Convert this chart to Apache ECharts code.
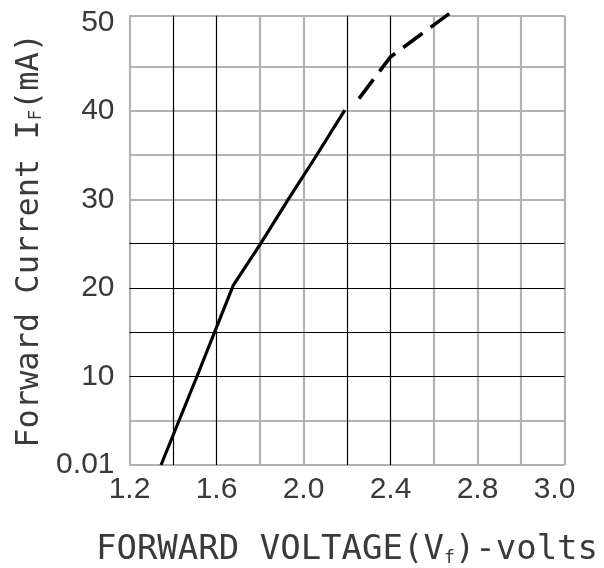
<!DOCTYPE html>
<html>
<head>
<meta charset="utf-8">
<script src="https://cdn.jsdelivr.net/npm/echarts@6/dist/echarts.min.js"></script>
<style>
  html, body { margin: 0; padding: 0; background: #fff; }
  #chart { width: 604px; height: 568px; }
</style>
</head>
<body>
<div id="chart"></div>
<script>
// Forward voltage (V) vs forward current (mA)
const solidVoltage = [1.345, 1.51, 1.677, 1.80, 1.93, 2.05, 2.19];
const solidCurrent = [0, 10, 20.3, 24.9, 30, 34.6, 40.1];
const dashedVoltage = [2.255, 2.40, 2.67];
const dashedCurrent = [41.4, 46.1, 51.0];

// Tick labels
const xTickValues = [1.2, 1.6, 2.0, 2.4, 2.8, 3.2];
const xTickLabels = ['1.2', '1.6', '2.0', '2.4', '2.8', '3.0'];
const yTickValues = [0, 10, 20, 30, 40, 50];
const yTickLabels = ['0.01', '10', '20', '30', '40', '50'];

// Grid lines: light frame lines and dark emphasis lines
const xMin = 1.2, xMax = 3.2, yMin = 0, yMax = 50.76;
const grayGridX = [1.2, 1.8, 2.0, 2.6, 2.8, 3.0, 3.2];
const darkGridX = [1.4, 1.6, 2.2, 2.4];
const grayGridY = [0, 5, 30, 35, 40, 45, 50.76];
const darkGridY = [10, 15, 20, 25];

const pair = (xs, ys) => xs.map((x, i) => [x, ys[i]]);
const gridLines = (xs, ys, style) => [
  ...xs.map(v => ({ xAxis: v, lineStyle: style })),
  ...ys.map(v => ({ yAxis: v, lineStyle: style }))
];

const grayStyle = { color: '#b2b2b2', width: 2.2, type: 'solid' };
const darkStyle = { color: '#000', width: 1.2, type: 'solid' };

const numFont = 'Liberation Sans, Arial, sans-serif';
const monoFont = 'DejaVu Sans Mono, monospace';
const textColor = '#3a3a3a';

const chart = echarts.init(document.getElementById('chart'), null, { renderer: 'canvas' });
chart.setOption({
  animation: false,
  backgroundColor: '#fff',
  grid: { left: 129.5, right: 39.5, top: 15.7, bottom: 103, containLabel: false, outerBoundsMode: 'none' },
  xAxis: {
    type: 'value', min: xMin, max: xMax, interval: 0.2,
    axisLine: { show: false }, axisTick: { show: false }, splitLine: { show: false },
    axisLabel: {
      margin: 10, fontFamily: numFont, fontSize: 30, color: textColor,
      showMinLabel: true, showMaxLabel: true,
      formatter: v => {
        const i = xTickValues.findIndex(t => Math.abs(t - v) < 1e-6);
        if (i < 0) return '';
        return i === xTickLabels.length - 1 ? '{last|' + xTickLabels[i] + '}' : xTickLabels[i];
      },
      rich: { last: { fontFamily: numFont, fontSize: 30, color: textColor, padding: [0, 20, 0, 0] } }
    },
    name: '{t|FORWARD VOLTAGE(V}{s|f}{t|)-volts}',
    nameLocation: 'middle', nameGap: 68,
    nameTextStyle: {
      rich: {
        t: { fontFamily: monoFont, fontSize: 34, color: textColor },
        s: { fontFamily: monoFont, fontSize: 18, color: textColor, verticalAlign: 'bottom', padding: [8, 0, 0, 0] }
      }
    }
  },
  yAxis: {
    type: 'value', min: yMin, max: yMax, interval: 10,
    axisLine: { show: false }, axisTick: { show: false }, splitLine: { show: false },
    axisLabel: {
      margin: 15, fontFamily: numFont, fontSize: 30, color: textColor,
      formatter: v => {
        const i = yTickValues.findIndex(t => Math.abs(t - v) < 1e-6);
        return i < 0 ? '' : yTickLabels[i];
      }
    },
    name: '{t|Forward Current I}{s|F}{t|(mA)}',
    nameLocation: 'middle', nameGap: 84, nameRotate: 90,
    nameTextStyle: {
      rich: {
        t: { fontFamily: monoFont, fontSize: 32, color: textColor },
        s: { fontFamily: monoFont, fontSize: 17, color: textColor, verticalAlign: 'bottom', padding: [8, 0, 0, 0] }
      }
    }
  },
  series: [
    {
      name: 'grid-light', type: 'line', data: [], silent: true, z: 1,
      markLine: { silent: true, symbol: 'none', label: { show: false }, animation: false,
        data: gridLines(grayGridX, grayGridY, grayStyle) }
    },
    {
      name: 'grid-dark', type: 'line', data: [], silent: true, z: 2,
      markLine: { silent: true, symbol: 'none', label: { show: false }, animation: false,
        data: gridLines(darkGridX, darkGridY, darkStyle) }
    },
    {
      name: 'measured', type: 'line', z: 5, showSymbol: false, smooth: false,
      data: pair(solidVoltage, solidCurrent),
      lineStyle: { color: '#000', width: 3.2 }
    },
    {
      name: 'extrapolated', type: 'line', z: 5, showSymbol: false, clip: false,
      data: pair(dashedVoltage, dashedCurrent),
      lineStyle: { color: '#000', width: 3.6, type: [24, 10] }
    }
  ]
});
</script>
</body>
</html>
